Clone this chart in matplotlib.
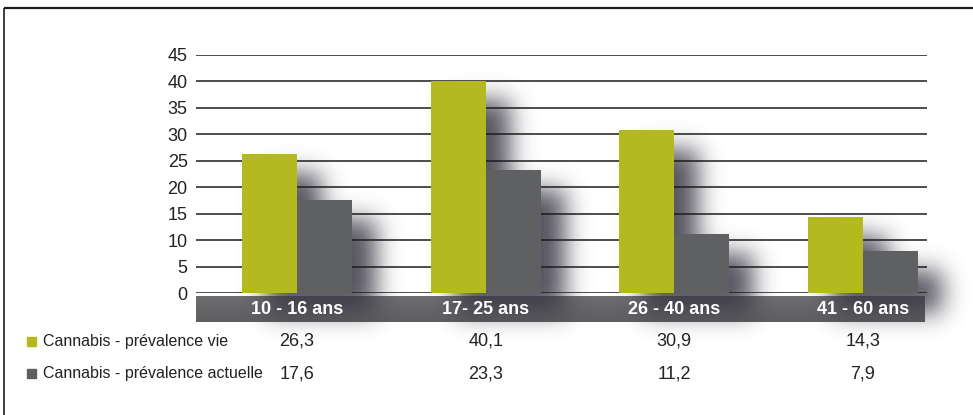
import numpy as np
import matplotlib
matplotlib.use("Agg")
import matplotlib.pyplot as plt
from matplotlib.patches import Rectangle
from matplotlib.transforms import blended_transform_factory

# ---- data -------------------------------------------------------------
categories = ["10 - 16 ans", "17- 25 ans", "26 - 40 ans", "41 - 60 ans"]
series_names = ["Cannabis - prévalence vie", "Cannabis - prévalence actuelle"]
vie = [26.3, 40.1, 30.9, 14.3]
actuelle = [17.6, 23.3, 11.2, 7.9]
yticks = [0, 5, 10, 15, 20, 25, 30, 35, 40, 45]


def fr(v):
    return f"{v:.1f}".replace(".", ",")


# ---- style ------------------------------------------------------------
W, H, DPI = 973, 415, 100
GREEN = "#b2ba1f"
GREY = "#5f6062"
LINE = "#1c1c1c"
plt.rcParams["font.family"] = ["Liberation Sans", "DejaVu Sans"]

fig = plt.figure(figsize=(W / DPI, H / DPI), dpi=DPI)
fig.patch.set_facecolor("white")

# background layer in pixel units: frame, band, shadows, legend keys
bg = fig.add_axes([0, 0, 1, 1], zorder=0)
bg.set_xlim(0, W)
bg.set_ylim(0, H)
bg.axis("off")

ax = fig.add_axes([196 / W, 1 - 293 / H, (927 - 196) / W, (293 - 55) / H], zorder=1)
ax.patch.set_alpha(0)
x = np.arange(len(categories))
ax.set_xlim(-0.5355, 3.34)
ax.set_ylim(0, 45)
bw = 0.2916
bars_v = ax.bar(x - bw, vie, width=bw, align="edge", color=GREEN, zorder=3, linewidth=0)
bars_a = ax.bar(x, actuelle, width=bw, align="edge", color=GREY, zorder=3, linewidth=0)

ax.set_yticks(yticks)
ax.set_yticklabels([str(t) for t in yticks], fontsize=13, color="#222222")
ax.set_xticks([])
ax.tick_params(axis="y", length=0, pad=6)
ax.grid(axis="y", color=LINE, linewidth=1.1, zorder=1)
ax.set_axisbelow(True)
for s in ax.spines.values():
    s.set_visible(False)

# ---- drop shadow behind the bars ---------------------------------------
mask = np.zeros((H, W))
dx, dy = 24, -20
for p in list(bars_v) + list(bars_a):
    bb = p.get_window_extent()
    x0, x1 = int(round(bb.x0 + dx)), int(round(bb.x1 + dx))
    y0, y1 = int(round(bb.y0 + dy)), int(round(bb.y1 + dy))
    mask[max(y0, 0):min(y1, H), max(x0, 0):min(x1, W)] = 1.0

sigma = 12
r = np.arange(-3 * sigma, 3 * sigma + 1)
k = np.exp(-0.5 * (r / sigma) ** 2)
k /= k.sum()
blur = np.apply_along_axis(lambda v: np.convolve(v, k, mode="same"), 1, mask)
blur = np.apply_along_axis(lambda v: np.convolve(v, k, mode="same"), 0, blur)
shadow = np.zeros((H, W, 4))
shadow[..., 0] = 0.22
shadow[..., 1] = 0.21
shadow[..., 2] = 0.26
shadow[..., 3] = np.clip(blur * 0.85, 0, 1)
bg.imshow(shadow, extent=(0, W, 0, H), origin="lower", zorder=2,
          interpolation="bilinear", aspect="auto")

# ---- category band ----------------------------------------------------
ax_x0 = ax.transAxes.transform((0, 0))[0]
ax_x1 = ax.transAxes.transform((1, 0))[0] - 2
band_top, band_bot = H - 297, H - 322
grad = np.linspace(0.43, 0.37, 16)[:, None] * np.ones((16, 64))
band = np.dstack([grad, grad, grad + 0.01])
bg.imshow(band, extent=(ax_x0, ax_x1, band_bot, band_top), origin="upper",
          zorder=1, interpolation="bilinear", aspect="auto")

bg.set_xlim(0, W)
bg.set_ylim(0, H)

# ---- labels and value table ------------------------------------------
trans = blended_transform_factory(ax.transData, ax.transAxes)
ax_h = (293 - 55)
y_band = -(309.5 - 293) / ax_h
y_row1 = -(341 - 293) / ax_h
y_row2 = -(373.5 - 293) / ax_h
for xi, cat, v1, v2 in zip(x, categories, vie, actuelle):
    ax.text(xi, y_band, cat, transform=trans, ha="center", va="center",
            color="white", fontsize=13, fontweight="bold", clip_on=False, zorder=5)
    ax.text(xi, y_row1, fr(v1), transform=trans, ha="center", va="center",
            color="#222222", fontsize=13, clip_on=False)
    ax.text(xi, y_row2, fr(v2), transform=trans, ha="center", va="center",
            color="#222222", fontsize=13, clip_on=False)

for name, col, yrow in zip(series_names, [GREEN, GREY], [H - 341, H - 373.5]):
    bg.add_patch(Rectangle((27, yrow - 4.5), 9, 9, color=col, zorder=3))
    bg.text(43, yrow, name, ha="left", va="center", fontsize=11.5,
            color="#222222", zorder=3)

# ---- frame ------------------------------------------------------------
bg.plot([4, W], [H - 8, H - 8], color=LINE, linewidth=1.6, zorder=4,
        solid_capstyle="butt")
bg.plot([4, 4], [0, H - 8], color=LINE, linewidth=1.2, zorder=4,
        solid_capstyle="butt")

fig.savefig("out.png", dpi=DPI)
